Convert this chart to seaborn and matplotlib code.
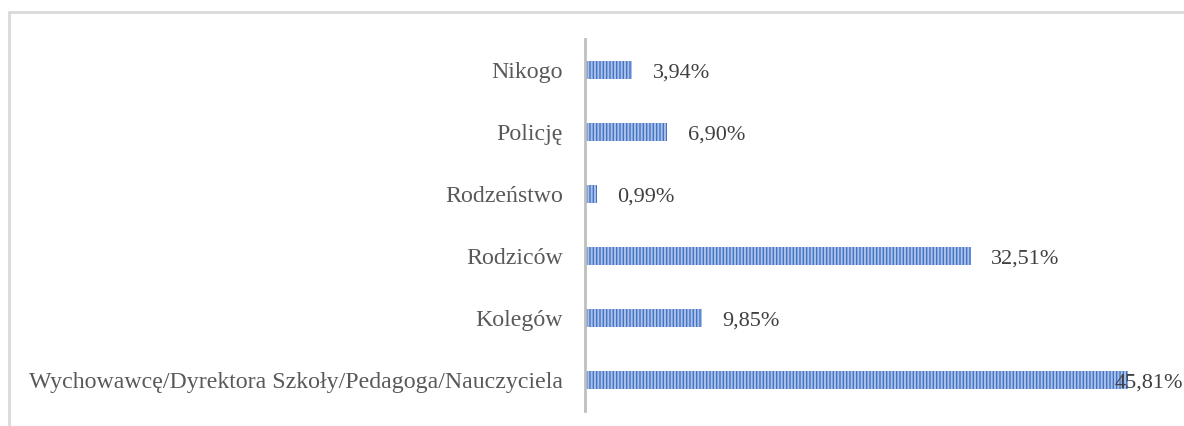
import pandas as pd
import seaborn as sns
import matplotlib.pyplot as plt
from matplotlib.patches import Rectangle

# answers, top to bottom as shown
categories = ["Nikogo", "Policję", "Rodzeństwo", "Rodziców", "Kolegów",
              "Wychowawcę/Dyrektora Szkoły/Pedagoga/Nauczyciela"]
values = [3.94, 6.90, 0.99, 32.51, 9.85, 45.81]
labels = ["3,94%", "6,90%", "0,99%", "32,51%", "9,85%", "45,81%"]

df = pd.DataFrame({"kategoria": categories, "procent": values})

sns.set_style("white")
plt.rcParams["font.family"] = ["Liberation Serif", "DejaVu Serif"]
plt.rcParams["hatch.linewidth"] = 1.4

fig = plt.figure(figsize=(11.84, 4.26), dpi=100)
ax = fig.add_axes([0.494, 0.035, 0.501, 0.873])

sns.barplot(data=df, x="procent", y="kategoria", orient="h", order=categories,
            color="#4472C4", saturation=1, width=0.29, ax=ax)
for p in ax.patches:
    p.set_hatch("|||||")
    p.set_edgecolor("#A9C1EA")
    p.set_linewidth(0)

# data labels, the widest one sits over the bar end like in the original
for i, (v, t) in enumerate(zip(values, labels)):
    off = -10 if v == max(values) else 15
    ax.annotate(t, xy=(v, i), xytext=(off, 0), textcoords="offset points",
                va="center_baseline", ha="left", fontsize=16, color="#404040")

ax.set_xlim(0, 50)
ax.set_xlabel("")
ax.set_ylabel("")
ax.set_xticks([])
ax.tick_params(axis="y", length=0, pad=16, labelsize=17.2, labelcolor="#595959")
for s in ["top", "right", "bottom"]:
    ax.spines[s].set_visible(False)
ax.spines["left"].set_color("#BFBFBF")
ax.spines["left"].set_linewidth(2)

# chart frame, cut off on the right and bottom
fig.patches.append(Rectangle((0.008, -0.2), 1.2, 1.172, transform=fig.transFigure,
                             fill=False, edgecolor="#D9D9D9", linewidth=2))

fig.savefig("out.png", dpi=100)
